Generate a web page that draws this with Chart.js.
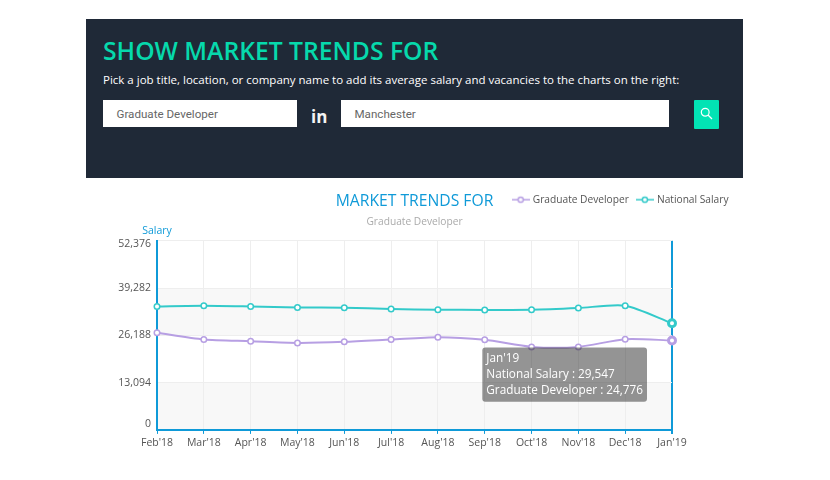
<!DOCTYPE html>
<html>
<head>
<meta charset="utf-8">
<script src="https://cdn.jsdelivr.net/npm/chart.js@4"></script>
<style>
html, body { margin: 0; padding: 0; background: #fff; overflow: hidden; }
body { width: 830px; height: 480px; position: relative; font-family: "Open Sans", sans-serif; }
#panel { position: absolute; left: 86px; top: 19px; width: 657px; height: 159px; background: #1f2937; }
#panel div, #panel svg { position: absolute; }
#heading { left: 17px; top: 15px; font-size: 24.7px; font-weight: 600; color: #06d9ac; white-space: nowrap; }
#sub { left: 17px; top: 53px; font-size: 11.5px; font-weight: 500; color: #fff; white-space: nowrap; }
.box { top: 81px; height: 27px; line-height: 28px; background: #fff; font-family: Roboto, sans-serif; font-size: 11.6px; color: #666; box-sizing: border-box; padding-left: 13.5px; }
#word { left: 225px; top: 86px; font-size: 17px; font-weight: 700; color: #f4f4f4; }
#go { left: 608px; top: 81px; width: 25px; height: 29px; background: #02e3b4; border-radius: 1px; }
#c { position: absolute; left: 0; top: 180px; }
</style>
</head>
<body>
<div id="panel">
  <div id="heading">SHOW MARKET TRENDS FOR</div>
  <div id="sub">Pick a job title, location, or company name to add its average salary and vacancies to the charts on the right:</div>
  <div class="box" style="left:17px;width:194px">Graduate Developer</div>
  <div id="word">in</div>
  <div class="box" style="left:255px;width:328px">Manchester</div>
  <div id="go"><svg style="left:6px;top:7px" width="13" height="13" viewBox="0 0 13 13" fill="none" stroke="#fff" stroke-width="1.2"><circle cx="5.2" cy="5.2" r="3.9"/><path d="M8 8l4 4"/></svg></div>
</div>
<canvas id="c" width="830" height="300"></canvas>
<script>
var months = ["Feb'18", "Mar'18", "Apr'18", "May'18", "Jun'18", "Jul'18", "Aug'18", "Sep'18", "Oct'18", "Nov'18", "Dec'18", "Jan'19"];
var graduateDeveloper = [26880, 25030, 24560, 24100, 24380, 25030, 25680, 24940, 22990, 22990, 25120, 24776];
var nationalSalary = [34206, 34400, 34200, 33930, 33840, 33470, 33280, 33240, 33280, 33750, 34400, 29547];
var salaryTicks = [0, 13094, 26188, 39282, 52376];

var PURPLE = '#b79fe3';
var TEAL = '#33caca';
var BLUE = '#0f9ad8';
var FONT = '"Open Sans", sans-serif';

// little line + circle used as the legend symbol
function legendIcon(colour) {
    var c = document.createElement('canvas');
    c.width = 18;
    c.height = 10;
    var g = c.getContext('2d');
    g.strokeStyle = colour;
    g.lineWidth = 1.5;
    g.beginPath(); g.moveTo(0, 5); g.lineTo(18, 5); g.stroke();
    g.fillStyle = '#fff';
    g.beginPath(); g.arc(9, 5, 2.6, 0, Math.PI * 2); g.fill(); g.stroke();
    return c;
}

function lineSet(label, values, colour) {
    return {
        label: label,
        data: values,
        borderColor: colour,
        backgroundColor: colour,
        borderWidth: 2,
        tension: 0.25,
        clip: false,
        pointStyle: 'circle',
        pointRadius: 2.75,
        pointBorderWidth: 1.5,
        pointBorderColor: colour,
        pointBackgroundColor: '#fff',
        pointHoverRadius: 3.5,
        pointHoverBorderWidth: 3,
        pointHoverBorderColor: colour,
        pointHoverBackgroundColor: '#fff'
    };
}

// alternating bands between the salary ticks, "Salary" caption, legend moved up beside the title
var extras = {
    id: 'extras',
    beforeLayout: function (chart) {
        // legend sits beside the title, so it takes no room in the layout
        var legend = chart.legend;
        if (!legend.flatFit) {
            var fit = legend.fit;
            legend.fit = function () { fit.call(this); this.height = 0; };
            legend.flatFit = true;
        }
    },
    afterLayout: function (chart) {
        chart.legend.top -= 55.2;
        chart.legend.bottom = chart.legend.top + 30; // legend clips its drawing to this box
        chart.legend.left += 65.5;
        chart.legend.right += 65.5;
    },
    beforeDraw: function (chart) {
        var a = chart.chartArea, y = chart.scales.y, g = chart.ctx;
        g.save();
        g.fillStyle = '#f8f8f8';
        for (var i = 0; i < salaryTicks.length - 1; i += 2) {
            var top = y.getPixelForValue(salaryTicks[i + 1]);
            var bottom = y.getPixelForValue(salaryTicks[i]);
            g.fillRect(a.left, top, a.width, bottom - top);
        }
        g.restore();
    },
    afterDraw: function (chart) {
        var a = chart.chartArea, g = chart.ctx;
        g.save();
        g.fillStyle = BLUE;
        g.font = '10.5px ' + FONT;
        g.textAlign = 'center';
        g.textBaseline = 'middle';
        g.fillText('Salary', a.left, a.top - 10);
        g.restore();
    }
};

Chart.Tooltip.positioners.besidePoint = function (items) {
    if (!items.length) return false;
    var p = items[items.length - 1].element;
    var lowest = Math.max.apply(null, items.map(function (i) { return i.element.y; }));
    return { x: p.x - 28, y: lowest + 7 };
};

var chart = new Chart(document.getElementById('c'), {
    type: 'line',
    plugins: [extras],
    data: {
        labels: months,
        datasets: [
            lineSet('Graduate Developer', graduateDeveloper, PURPLE),
            lineSet('National Salary', nationalSalary, TEAL)
        ]
    },
    options: {
        responsive: false,
        animation: false,
        events: [],
        layout: { padding: { left: 100, right: 158, top: 12, bottom: 27.5 } },
        scales: {
            x: {
                offset: false,
                border: { color: BLUE, width: 2 },
                grid: {
                    tickLength: 4,
                    tickColor: BLUE,
                    color: function (ctx) { return ctx.index === months.length - 1 ? BLUE : '#eeeeee'; },
                    lineWidth: function (ctx) { return ctx.index === months.length - 1 ? 2 : 1; }
                },
                ticks: {
                    autoSkip: false,
                    maxRotation: 0,
                    padding: 3,
                    color: '#555',
                    font: { family: FONT, size: 10.5 }
                }
            },
            y: {
                min: 0,
                max: 52376,
                afterBuildTicks: function (scale) {
                    scale.ticks = salaryTicks.map(function (v) { return { value: v }; });
                },
                afterFit: function (scale) { scale.width = 57; },
                border: { color: BLUE, width: 2 },
                grid: { color: '#eeeeee', drawTicks: false },
                ticks: {
                    padding: 6,
                    color: '#555',
                    font: function (ctx) {
                        return { family: FONT, size: 10.5, lineHeight: ctx.index === salaryTicks.length - 1 ? 0.68 : 1.2 };
                    },
                    callback: function (v) {
                        var s = v.toLocaleString('en-US');
                        if (v === salaryTicks[salaryTicks.length - 1]) return ['', s];
                        if (v === 0) return [s, ''];
                        return s;
                    }
                }
            }
        },
        plugins: {
            title: {
                display: true,
                fullSize: false,
                text: 'MARKET TRENDS FOR',
                color: BLUE,
                font: { family: FONT, size: 15.7, weight: 'normal' },
                padding: { top: 0, bottom: 5 }
            },
            subtitle: {
                display: true,
                fullSize: false,
                text: 'Graduate Developer',
                color: '#aaa',
                font: { family: FONT, size: 10.2, weight: 'normal' },
                padding: { top: 0, bottom: 12.7 }
            },
            legend: {
                display: true,
                fullSize: false,
                position: 'top',
                align: 'end',
                labels: {
                    usePointStyle: true,
                    pointStyleWidth: 14,
                    padding: 9,
                    color: '#555',
                    font: { family: FONT, size: 10.2 },
                    generateLabels: function (c) {
                        return c.data.datasets.map(function (d, i) {
                            return {
                                text: d.label,
                                datasetIndex: i,
                                fontColor: '#555',
                                pointStyle: legendIcon(d.borderColor),
                                strokeStyle: 'transparent',
                                fillStyle: 'transparent',
                                lineWidth: 0
                            };
                        });
                    }
                }
            },
            tooltip: {
                enabled: true,
                position: 'besidePoint',
                xAlign: 'right',
                yAlign: 'top',
                caretSize: 0,
                caretPadding: 0,
                cornerRadius: 3,
                padding: { x: 4, y: 4 },
                displayColors: false,
                backgroundColor: 'rgba(60,60,60,0.55)',
                titleColor: '#fff',
                bodyColor: '#fff',
                titleFont: { family: FONT, size: 11.75, weight: 'normal' },
                bodyFont: { family: FONT, size: 11.75, weight: 'normal' },
                titleMarginBottom: 2,
                bodySpacing: 2,
                itemSort: function (a, b) { return b.datasetIndex - a.datasetIndex; },
                callbacks: {
                    label: function (ctx) {
                        return ctx.dataset.label + ' : ' + ctx.parsed.y.toLocaleString('en-US');
                    }
                }
            }
        }
    }
});

// last month is shown hovered, with its tooltip open
var last = months.length - 1;
var active = [{ datasetIndex: 0, index: last }, { datasetIndex: 1, index: last }];
chart.setActiveElements(active);
chart.tooltip.setActiveElements(active, { x: 0, y: 0 });
chart.update();
</script>
</body>
</html>
